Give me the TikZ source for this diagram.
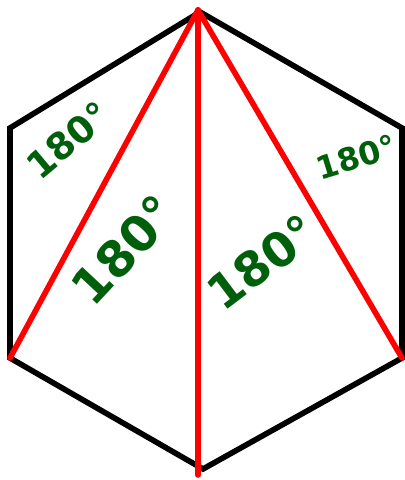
\documentclass[tikz,border=0pt]{standalone}
\usepackage{fontspec}
\setmainfont{DejaVu Sans}
\definecolor{penred}{RGB}{255,0,0}
\definecolor{pengreen}{RGB}{0,95,10}
\tikzset{
  edge/.style={line width=3.2pt,line join=miter},
  diag/.style={penred,line width=3.2pt,line cap=round},
  angle/.style={text=pengreen,inner sep=0pt,font=\bfseries\fontsize{#1}{#1}\selectfont}
}
\begin{document}
\begin{tikzpicture}[x=0.02cm,y=-0.02cm]
\useasboundingbox (0,0) rectangle (405,480);
% corners of the hexagon
\coordinate (top) at (200,12);
\coordinate (upright) at (402,128);
\coordinate (lowright) at (402,358);
\coordinate (bottom) at (203,469);
\coordinate (lowleft) at (10,358);
\coordinate (upleft) at (10,128);
\draw[edge] (top)--(upright)--(lowright)--(bottom)--(lowleft)--(upleft)--cycle;
% the three diagonals from the top corner
\coordinate (apex) at (198,10);
\coordinate (foot) at (198,475);
\draw[diag] (apex)--(lowleft);
\draw[diag] (apex)--(foot);
\draw[diag] (apex)--(lowright);
% angle sums
\node[angle=21pt,rotate=40] (sumA) at (68,140) {180°};
\node[angle=28pt,rotate=47] (sumB) at (124,250) {180°};
\node[angle=27pt,rotate=37] (sumC) at (262,262) {180°};
\node[angle=18pt,rotate=17] (sumD) at (356,157) {180°};
\end{tikzpicture}
\end{document}
